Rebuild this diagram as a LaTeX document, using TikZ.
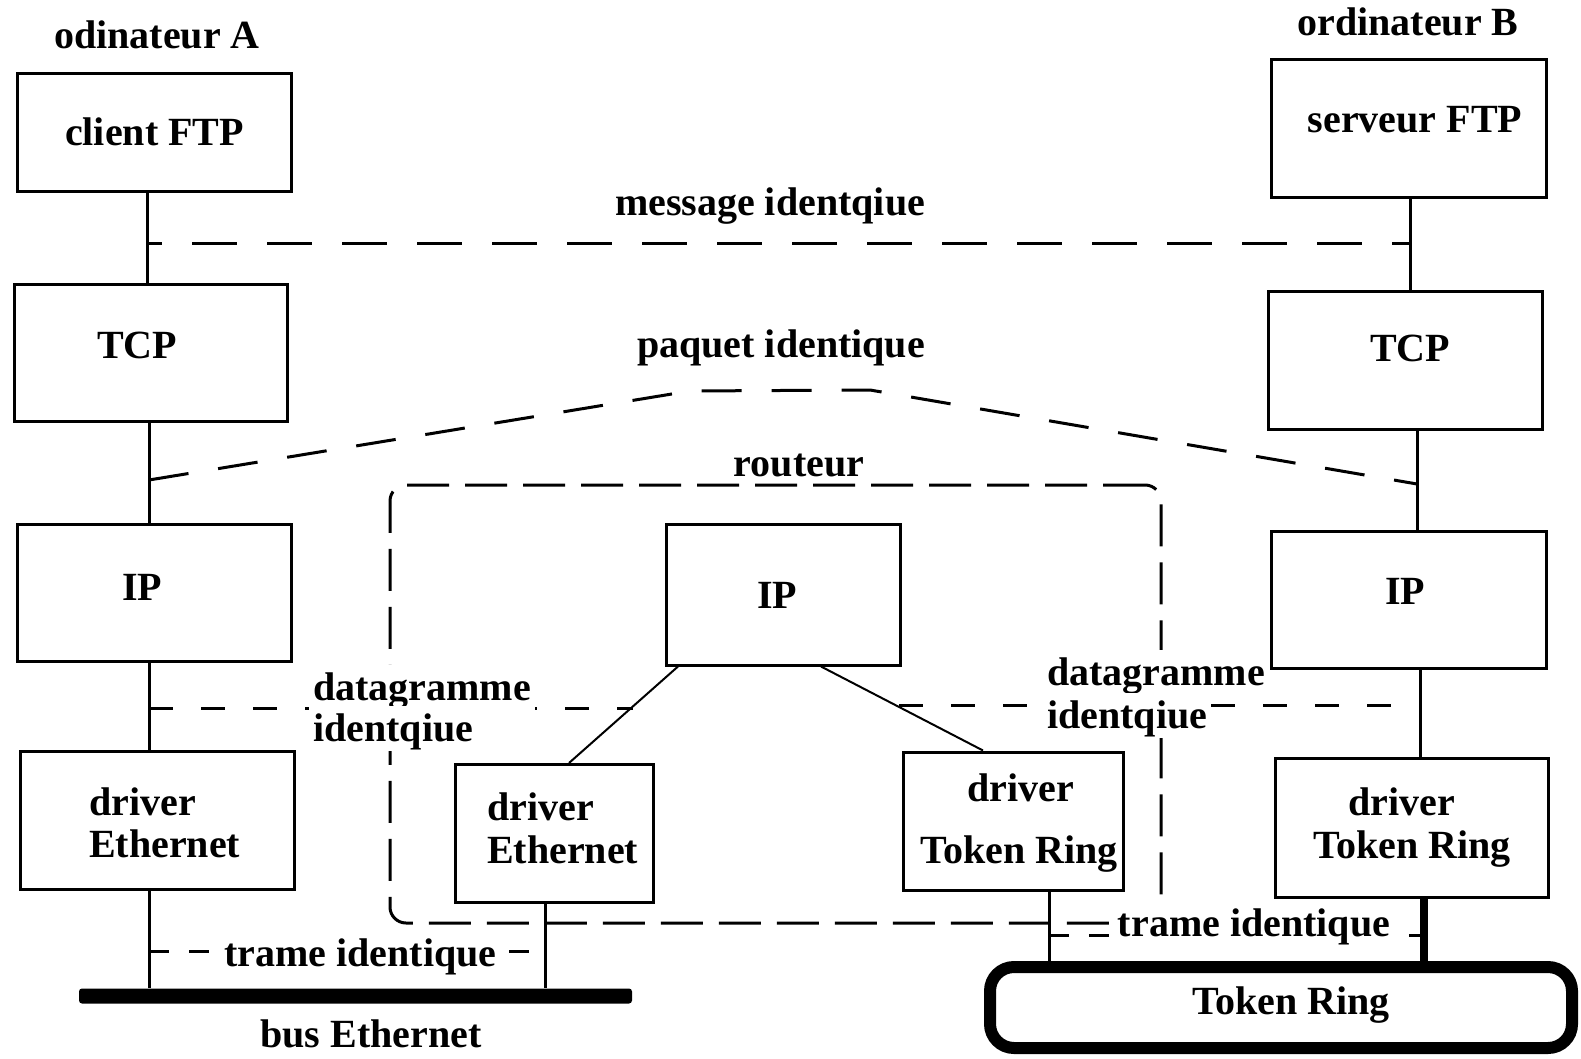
\documentclass[tikz,border=0pt]{standalone}
\usepackage{fontspec}
\setmainfont{Liberation Serif}
\begin{document}
\begin{tikzpicture}[x=1pt,y=-1pt,
  box/.style 2 args={draw, line width=3pt, inner sep=0pt, minimum width=#1, minimum height=#2},
  conn/.style={line width=3pt},
  diag/.style={line width=2pt},
  lbl/.style={font=\bfseries\fontsize{40}{48}\selectfont, inner sep=0pt, text height=27pt, text depth=0pt},
  lblw/.style={lbl, fill=white, inner xsep=4pt, inner ysep=9pt},
  msgdash/.style={line width=3pt, dash pattern=on 45pt off 30pt},
  pqdash/.style={line width=3pt, dash pattern=on 40pt off 30pt},
  dgdash/.style={line width=3pt, dash pattern=on 24pt off 28pt},
  trdash/.style={line width=3pt, dash pattern=on 20pt off 20pt},
  rtrbox/.style={draw, line width=3pt, dash pattern=on 42pt off 16pt, rounded corners=16pt, inner sep=0pt},
  ringbox/.style={draw, line width=12pt, rounded corners=24pt, inner sep=0pt},
  busbar/.style={fill=black, draw=none, inner sep=0pt, rounded corners=3pt}
]
\useasboundingbox (0,0) rectangle (1581,1059);

% router enclosure
\node[rtrbox, minimum width=771pt, minimum height=438pt] (rtr) at (775.5,704) {};

% dashed peer lines
\coordinate (m1) at (147,244);
\coordinate (m2) at (1410,244);
\draw[msgdash, dash phase=30pt] (m1) -- (m2);
\coordinate (p1) at (149,480);
\coordinate (p2) at (690,391);
\coordinate (p3) at (870,390);
\coordinate (p4) at (1417,484);
\draw[pqdash] (p1) -- (p2) -- (p3) -- (p4);
\coordinate (g1) at (149,708);
\coordinate (g2) at (633,708);
\coordinate (g3) at (899,705);
\coordinate (g4) at (1420,705);
\draw[dgdash] (g1) -- (g2);
\draw[dgdash] (g3) -- (g4);
\coordinate (t1) at (149,951);
\coordinate (t2) at (545,951);
\coordinate (t3) at (1049,935);
\coordinate (t4) at (1424,935);
\draw[trdash] (t1) -- (t2);
\draw[trdash] (t3) -- (t4);

% labels
\node[lbl] (tA) at (157,35) {odinateur A};
\node[lbl] (tB) at (1408,22) {ordinateur B};
\node[lbl] (tclient) at (154.5,132) {client FTP};
\node[lbl] (tserver) at (1415,119) {serveur FTP};
\node[lbl] (tmsg) at (770,202) {message identqiue};
\node[lbl] (ttcpA) at (137,345) {TCP};
\node[lbl] (ttcpB) at (1410,348) {TCP};
\node[lbl] (tpq) at (781,344) {paquet identique};
\node[lbl] (trtr) at (799,463) {routeur};
\node[lbl] (tipA) at (142,587) {IP};
\node[lbl] (tipR) at (777,595) {IP};
\node[lbl] (tipB) at (1405,591) {IP};
\node[lblw, anchor=west] (tdgL1) at (309,687) {datagramme};
\node[lblw, anchor=west] (tdgL2) at (309,728) {identqiue};
\node[lblw, anchor=west] (tdgR1) at (1043,672) {datagramme};
\node[lblw, anchor=west] (tdgR2) at (1043,715) {identqiue};
\node[lbl, anchor=west] (tdA1) at (89,802) {driver};
\node[lbl, anchor=west] (tdA2) at (89,844) {Ethernet};
\node[lbl, anchor=west] (tdRE1) at (487,807) {driver};
\node[lbl, anchor=west] (tdRE2) at (487,850) {Ethernet};
\node[lbl] (tdRT1) at (1021,788) {driver};
\node[lbl] (tdRT2) at (1019,850) {Token Ring};
\node[lbl] (tdB1) at (1402,802) {driver};
\node[lbl] (tdB2) at (1412,845) {Token Ring};
\node[lblw] (ttrL) at (360.5,953) {trame identique};
\node[lblw] (ttrR) at (1254,923) {trame identique};
\node[lbl] (tbus) at (371,1034) {bus Ethernet};
\node[lbl] (tring) at (1291,1001) {Token Ring};

% boxes
\node[box={274pt}{118pt}] (clientA) at (154,133) {};
\node[box={275pt}{138pt}] (serverB) at (1408.5,129) {};
\node[box={273pt}{137pt}] (tcpA) at (150.5,352.5) {};
\node[box={274pt}{138pt}] (tcpB) at (1405,360) {};
\node[box={274pt}{137pt}] (ipA) at (154,592.5) {};
\node[box={234pt}{141pt}] (ipR) at (783,594.5) {};
\node[box={275pt}{137pt}] (ipB) at (1408.5,599.5) {};
\node[box={274pt}{138pt}] (drvA) at (157,820.5) {};
\node[box={198pt}{138pt}] (drvRE) at (554,833.5) {};
\node[box={220pt}{138pt}] (drvRT) at (1013,821) {};
\node[box={273pt}{139pt}] (drvB) at (1411.5,827.5) {};
\node[ringbox, minimum width=582pt, minimum height=81pt] (ring) at (1281,1007.5) {};
\node[busbar, minimum width=553pt, minimum height=15pt] (bus) at (355.5,996) {};

% x positions of vertical connectors
\coordinate (xa1) at (147,0);
\coordinate (xa2) at (149,0);
\coordinate (xb1) at (1410,0);
\coordinate (xb2) at (1417,0);
\coordinate (xb3) at (1420,0);
\coordinate (xb4) at (1424,0);
\coordinate (xre) at (545,0);
\coordinate (xrt) at (1049,0);
\coordinate (d1a) at (678,0);
\coordinate (d1b) at (569,0);
\coordinate (d2a) at (821,0);
\coordinate (d2b) at (983,0);

% connectors
\draw[conn] (clientA.south -| xa1) -- (tcpA.north -| xa1);
\draw[conn] (tcpA.south -| xa2) -- (ipA.north -| xa2);
\draw[conn] (ipA.south -| xa2) -- (drvA.north -| xa2);
\draw[conn] (drvA.south -| xa2) -- (bus.north -| xa2);
\draw[conn] (serverB.south -| xb1) -- (tcpB.north -| xb1);
\draw[conn] (tcpB.south -| xb2) -- (ipB.north -| xb2);
\draw[conn] (ipB.south -| xb3) -- (drvB.north -| xb3);
\draw[line width=8pt] (drvB.south -| xb4) -- (ring.north -| xb4);
\draw[conn] (drvRE.south -| xre) -- (bus.north -| xre);
\draw[conn] (drvRT.south -| xrt) -- (ring.north -| xrt);
\draw[diag] (ipR.south -| d1a) -- (drvRE.north -| d1b);
\draw[diag] (ipR.south -| d2a) -- (drvRT.north -| d2b);
\end{tikzpicture}
\end{document}
